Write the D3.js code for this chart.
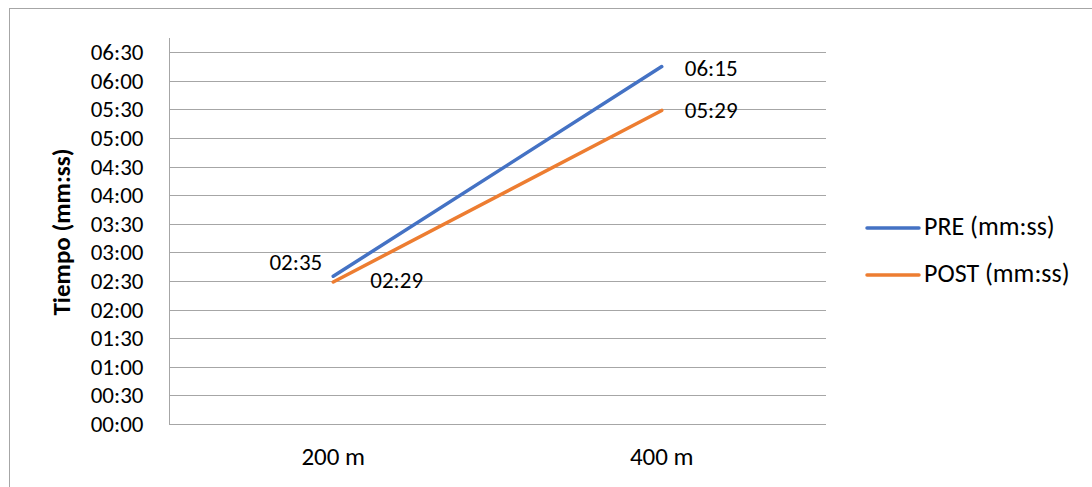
<!DOCTYPE html>
<html>
<head>
<meta charset="utf-8">
<script src="https://cdn.jsdelivr.net/npm/d3@7"></script>
<style>
  html, body { margin: 0; padding: 0; background: #fff; }
  svg { display: block; font-family: Carlito, Calibri, Lato, "Open Sans", sans-serif; }
</style>
</head>
<body>
<svg id="chart" width="1092" height="487"></svg>
<script>
// Distances and timing results (seconds)
const categories = ["200 m", "400 m"];
const preSeconds = [155, 375];   // 02:35, 06:15
const postSeconds = [149, 329];  // 02:29, 05:29
const seriesNames = ["PRE (mm:ss)", "POST (mm:ss)"];
const tickSeconds = [0, 30, 60, 90, 120, 150, 180, 210, 240, 270, 300, 330, 360, 390];
const yAxisTitle = "Tiempo (mm:ss)";

const colors = ["#4472C4", "#ED7D31"];
const FONT = "Carlito, Calibri, Lato, sans-serif";

const svg = d3.select("#chart");
const margin = { left: 169, right: 826, top: 38, bottom: 424 };

const fmt = s => {
  const m = Math.floor(s / 60), ss = s % 60;
  return String(m).padStart(2, "0") + ":" + String(ss).padStart(2, "0");
};

// Outer chart frame
svg.append("rect")
  .attr("x", 9.5).attr("y", 8.5)
  .attr("width", 1200).attr("height", 600)
  .attr("fill", "none").attr("stroke", "#a6a6a6").attr("stroke-width", 1);

const x = d3.scaleBand().domain(categories).range([margin.left, margin.right]);
const y = d3.scaleLinear().domain([0, 405]).range([margin.bottom, margin.top]);

// Horizontal gridlines
svg.append("g")
  .selectAll("line")
  .data(tickSeconds.filter(d => d > 0))
  .join("line")
  .attr("x1", margin.left).attr("x2", margin.right)
  .attr("y1", d => Math.round(y(d)) + 0.5).attr("y2", d => Math.round(y(d)) + 0.5)
  .attr("stroke", "#a6a6a6").attr("stroke-width", 1);

// Y axis
const yAxis = d3.axisLeft(y).tickValues(tickSeconds).tickFormat(fmt).tickSize(0).tickPadding(26);
const gy = svg.append("g").attr("transform", `translate(${margin.left + 0.5},0)`).call(yAxis);
gy.select(".domain").attr("stroke", "#a6a6a6").attr("d", `M0,${margin.top}V${margin.bottom + 0.5}`);
gy.selectAll("text").attr("font-size", 23).attr("fill", "#000").attr("font-family", FONT);

// X axis
const xAxis = d3.axisBottom(x).tickSize(0).tickPadding(23);
const gx = svg.append("g").attr("transform", `translate(0,${Math.round(y(0)) + 0.5})`).call(xAxis);
gx.select(".domain").attr("stroke", "#a6a6a6").attr("d", `M${margin.left},0H${margin.right}`);
gx.selectAll("text").attr("font-size", 25).attr("fill", "#000").attr("font-family", FONT);

// Axis title
svg.append("text")
  .attr("transform", `translate(70,${(margin.top + margin.bottom) / 2 + 1}) rotate(-90)`)
  .attr("text-anchor", "middle")
  .attr("font-size", 25).attr("font-weight", "bold")
  .text(yAxisTitle);

// Series lines
const series = [preSeconds, postSeconds];
const line = d3.line().x((d, i) => x(categories[i]) + x.bandwidth() / 2).y(d => y(d));
series.forEach((vals, k) => {
  svg.append("path")
    .datum(vals)
    .attr("d", line)
    .attr("fill", "none")
    .attr("stroke", colors[k])
    .attr("stroke-width", 3.5)
    .attr("stroke-linecap", "round");
});

// Data labels
const labelPos = [
  [{ dx: -11, dy: -12, anchor: "end" }, { dx: 23, dy: 4, anchor: "start" }],
  [{ dx: 37, dy: 1, anchor: "start" }, { dx: 23, dy: 2, anchor: "start" }]
];
series.forEach((vals, k) => {
  vals.forEach((v, i) => {
    const p = labelPos[k][i];
    svg.append("text")
      .attr("x", x(categories[i]) + x.bandwidth() / 2 + p.dx)
      .attr("y", y(v) + p.dy)
      .attr("dominant-baseline", "middle")
      .attr("text-anchor", p.anchor)
      .attr("font-size", 23)
      .text(fmt(v));
  });
});

// Legend
const legend = svg.append("g");
seriesNames.forEach((name, k) => {
  const ly = 228 + k * 47;
  legend.append("line")
    .attr("x1", 867).attr("x2", 919).attr("y1", ly).attr("y2", ly)
    .attr("stroke", colors[k]).attr("stroke-width", 3.5).attr("stroke-linecap", "round");
  legend.append("text")
    .attr("x", 924).attr("y", ly + 1)
    .attr("dominant-baseline", "middle")
    .attr("font-size", 26)
    .text(name);
});
</script>
</body>
</html>
